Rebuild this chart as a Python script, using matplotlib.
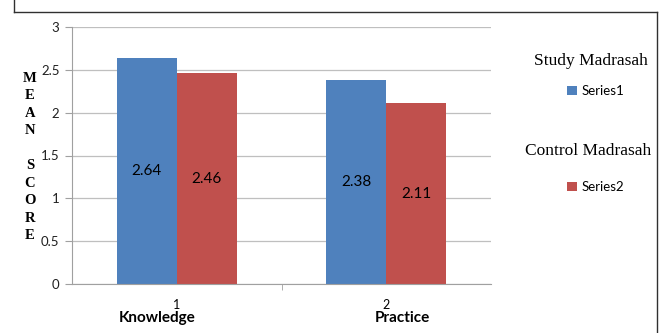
import matplotlib.pyplot as plt
from matplotlib.lines import Line2D
import matplotlib.transforms as mtransforms

# mean scores by domain
categories = ['1', '2']
domain_names = ['Knowledge', 'Practice']
study = [2.64, 2.38]      # Series1 - Study Madrasah
control = [2.46, 2.11]    # Series2 - Control Madrasah

blue = '#4F81BD'
red = '#C0504D'

plt.rcParams['font.family'] = ['Lato', 'DejaVu Sans']

fig = plt.figure(figsize=(6.6, 3.33), dpi=100)
ax = fig.add_axes([72 / 660, 1 - 284 / 333, 419 / 660, 257 / 333])

x = range(len(categories))
w = 0.286
b1 = ax.bar([i - w for i in x], study, width=w, align='edge', color=blue, label='Series1')
b2 = ax.bar(list(x), control, width=w, align='edge', color=red, label='Series2')

# values written in the middle of each bar
for bars in (b1, b2):
    for bar in bars:
        h = bar.get_height()
        ax.text(bar.get_x() + bar.get_width() / 2, h / 2, f'{h:.2f}',
                ha='center', va='center', fontsize=11, color='black')

ax.set_xlim(-0.5, 1.5)
ax.set_ylim(0, 3)
ax.set_yticks([0, 0.5, 1, 1.5, 2, 2.5, 3])
ax.set_yticklabels(['0', '0.5', '1', '1.5', '2', '2.5', '3'])
ax.set_xticks(list(x))
ax.set_xticklabels(categories)
ax.set_xticks([0.5], minor=True)
ax.tick_params(axis='x', which='major', length=0, pad=11, labelsize=9)
ax.tick_params(axis='x', which='minor', length=4, color='#A0A0A0')
ax.tick_params(axis='y', length=5, color='#A0A0A0', labelsize=9.5, pad=4, labelcolor='#202020')

ax.yaxis.grid(True, color='#BFBFBF', linewidth=0.9)
ax.set_axisbelow(True)
for side in ('top', 'right'):
    ax.spines[side].set_visible(False)
ax.spines['left'].set_color('#A0A0A0')
ax.spines['bottom'].set_color('#A0A0A0')

# bold domain names under the category numbers
trans = mtransforms.blended_transform_factory(ax.transData, fig.transFigure)
ax.text(-0.094, 1 - 318 / 333, domain_names[0], transform=trans, ha='center', va='center',
        fontsize=11, fontweight='bold')
ax.text(1.075, 1 - 318 / 333, domain_names[1], transform=trans, ha='center', va='center',
        fontsize=11, fontweight='bold')

# vertical y-axis label, one letter per line
fig.text(30 / 660, 1 - 157 / 333, 'M\nE\nA\nN\n\nS\nC\nO\nR\nE', ha='center', va='center',
         fontsize=10.5, fontweight='bold', family='Liberation Serif', linespacing=1.45)

# legend with group headings
fig.text(591 / 660, 1 - 61 / 333, 'Study Madrasah', ha='center', va='center',
         fontsize=12.5, family='Liberation Serif')
fig.text(588 / 660, 1 - 151 / 333, 'Control Madrasah', ha='center', va='center',
         fontsize=12.5, family='Liberation Serif')
fig.legend(handles=[b1], labels=['Series1'], loc='center', bbox_to_anchor=(596 / 660, 1 - 91 / 333),
           frameon=False, handlelength=0.7, handleheight=0.7, handletextpad=0.4, fontsize=9.5)
fig.legend(handles=[b2], labels=['Series2'], loc='center', bbox_to_anchor=(596 / 660, 1 - 187 / 333),
           frameon=False, handlelength=0.7, handleheight=0.7, handletextpad=0.4, fontsize=9.5)

# outer chart border
for xs, ys in [((14, 14), (0, 12)), ((14, 657), (12, 12)), ((657, 657), (12, 333))]:
    fig.add_artist(Line2D([v / 660 for v in xs], [1 - v / 333 for v in ys],
                          color='#303030', linewidth=1))

fig.savefig('out.png', dpi=100)
